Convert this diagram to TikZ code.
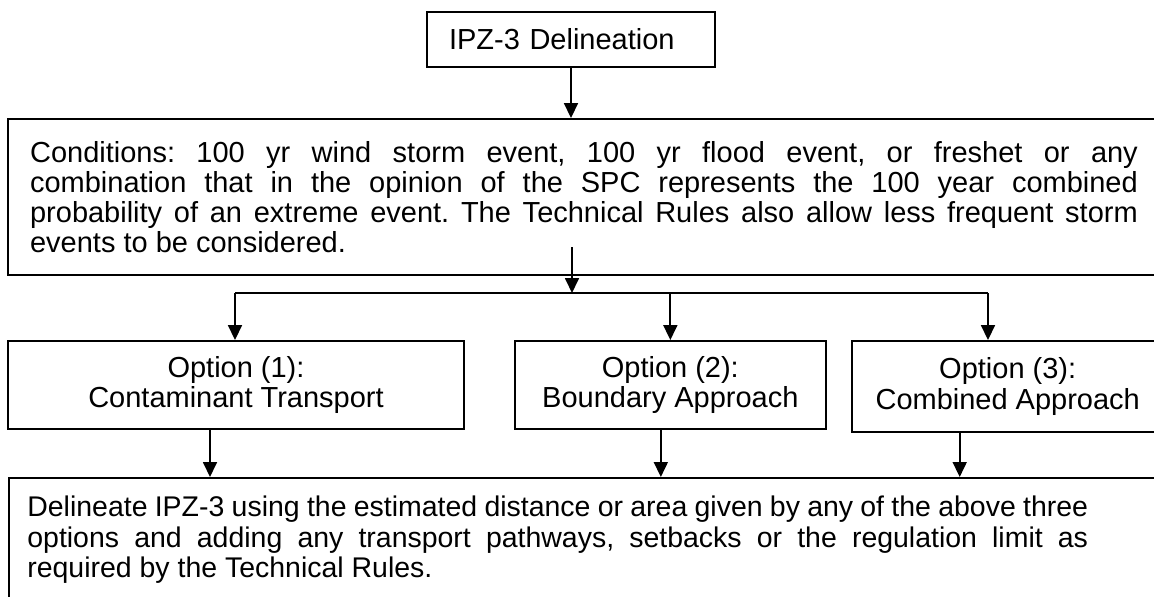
\documentclass[tikz,border=0pt]{standalone}
\usepackage{fontspec}
\setmainfont{Liberation Sans}
\usepackage{tikz}
\usetikzlibrary{arrows.meta,positioning}
\frenchspacing

\begin{document}
\begin{tikzpicture}[
      x=0.02cm, y=-0.02cm,
      mybox/.style={
         draw=black,
         line width=1.1pt,
         inner sep=0pt,
         font=\fontsize{16.5}{17.1}\selectfont},
      box_text/.style={
         inner sep=0pt,
         align=justify,
         font=\fontsize{16.2}{17.1}\selectfont},
      myarrow/.style={
        -{Triangle[length=3mm,width=2.8mm]},
        line width=1pt},
      bus_line/.style={
        line width=1pt},
      ]
      \useasboundingbox (0,0) rectangle (1154,596);
      \clip (0,0) rectangle (1154,596);

      % start
      \node[mybox,minimum width=5.76cm,minimum height=1.1cm,
            text width=4.88cm,align=left] (ipz) at (571,39.5) {IPZ-3 Delineation};

      % conditions
      \node[mybox,text width=22.16cm,inner xsep=0.44cm,minimum height=3.12cm,
            align=justify] (cond) at (584,197) {Conditions: 100 yr wind storm event, 100 yr flood event, or freshet or any\linebreak
        combination that in the opinion of the SPC represents the 100 year combined\linebreak
        probability of an extreme event. The Technical Rules also allow less frequent storm\linebreak
        events to be considered.};

      % options
      \node[mybox,minimum width=9.12cm,minimum height=1.76cm,align=center]
        (opt1) at (236,385) {Option (1):\\Contaminant Transport};
      \node[mybox,minimum width=6.22cm,minimum height=1.76cm,align=center,
            right=0.98cm of opt1] (opt2) {Option (2):\\Boundary Approach};
      \node[mybox,minimum width=6.24cm,minimum height=1.82cm,align=center,
            anchor=north west] (opt3) at ([xshift=0.48cm]opt2.north east) {Option (3):\\Combined Approach};

      % result
      \node[mybox,minimum width=23.4cm,minimum height=3cm,anchor=north west] (final) at (8,477) {};
      \node[box_text,text width=21.22cm,anchor=north west] (final_txt) at (27,496) {Delineate IPZ-3 using the estimated distance or area given by any of the above three\linebreak
        options and adding any transport pathways, setbacks or the regulation limit as\linebreak
        required by the Technical Rules.};

      \coordinate (split_top) at (572,247);
      \coordinate (bus_l) at (235,293);
      \coordinate (bus_r) at (988,293);

      \draw [myarrow] (ipz.south) -- (ipz.south |- cond.north);
      \draw [myarrow] (split_top) -- (split_top |- bus_l);
      \draw [bus_line] (bus_l) -- (bus_r);

    \foreach \i/\j in {% start/end node
      bus_l/opt1,
      bus_r/opt3}
      \draw [myarrow] (\i) -- (\i |- \j.north);
      \draw [myarrow] (opt2.north |- bus_l) -- (opt2.north);

    \foreach \i/\dx in {% option/shift of the out arrow
      opt1/-26,
      opt2/-9.5,
      opt3/-48}
      \path (\i.south) ++(\dx,0) coordinate (\i_out);
    \foreach \i in {opt1,opt2,opt3}
      \draw [myarrow] (\i_out) -- (\i_out |- final.north);
    \end{tikzpicture}
\end{document}
